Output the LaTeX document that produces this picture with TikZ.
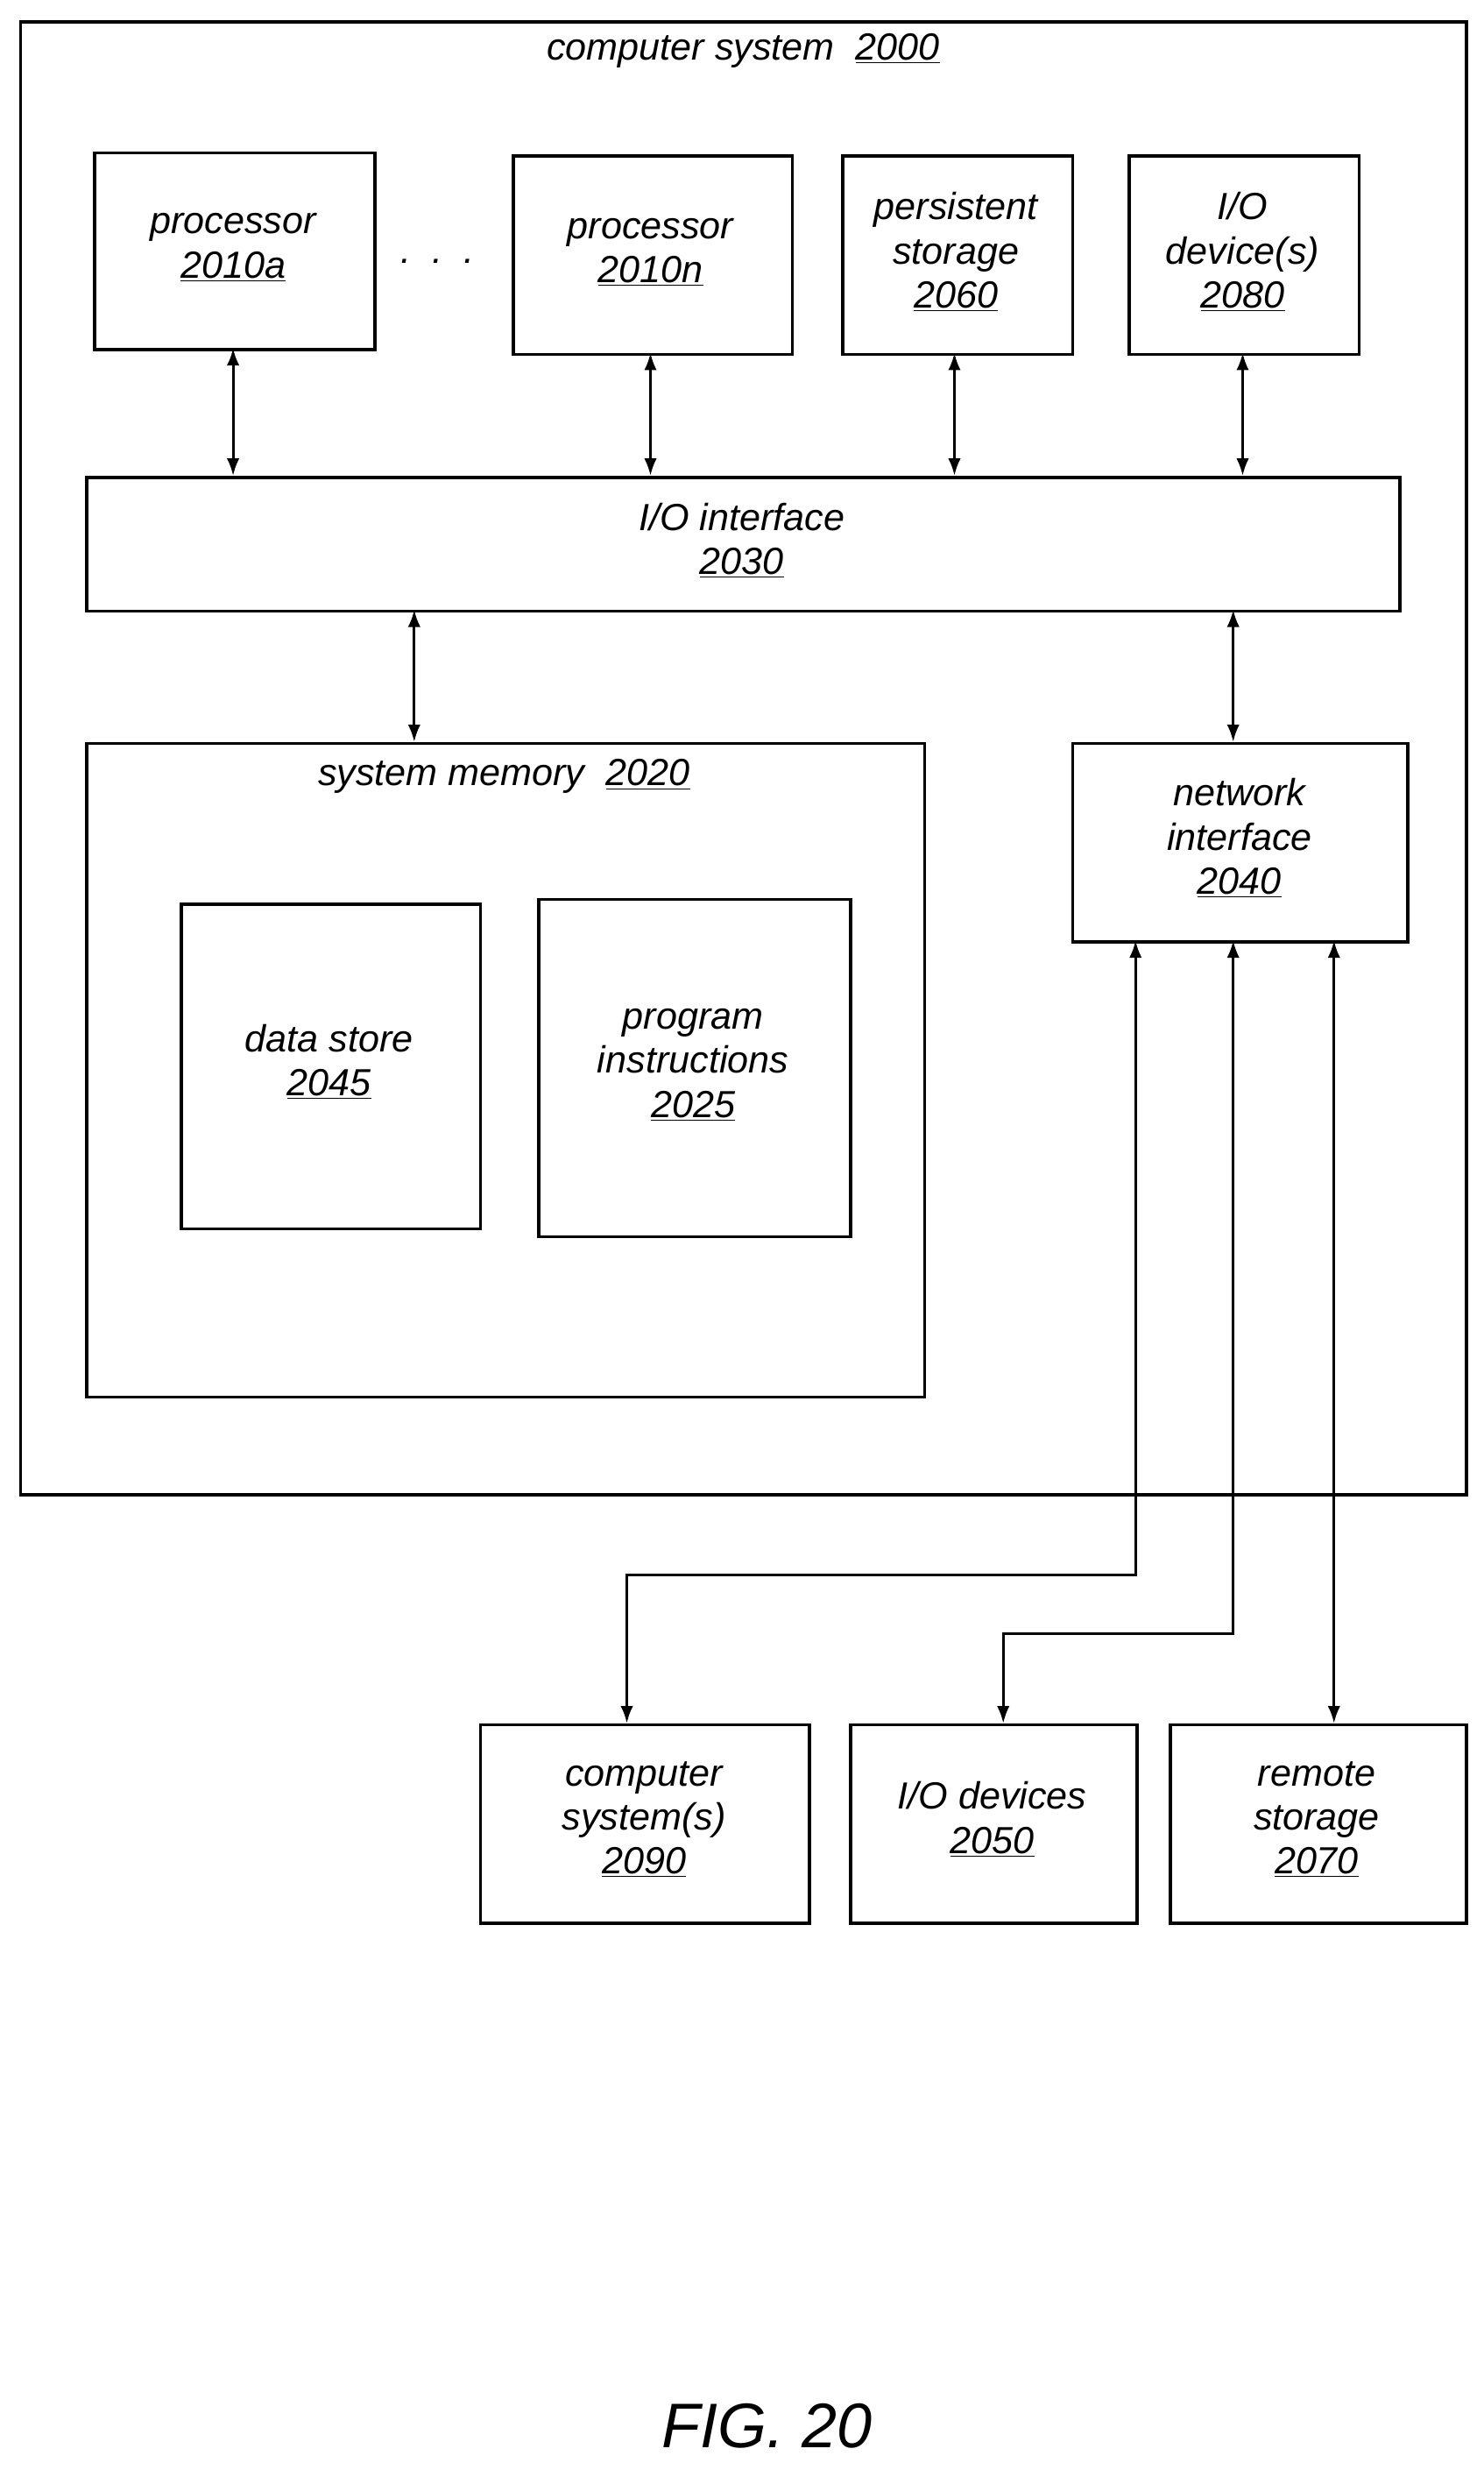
\documentclass[tikz,border=0pt]{standalone}
\usepackage{fontspec}
\setmainfont{Liberation Sans}
\usetikzlibrary{arrows.meta}
\begin{document}
\begin{tikzpicture}[x=1pt,y=-1pt,
  box/.style={draw,line width=2pt},
  lbl/.style={font=\fontsize{24}{28}\selectfont\itshape,align=center},
  arr/.style={line width=1.6pt,{Latex[length=11pt,width=8pt]}-{Latex[length=11pt,width=8pt]}},
  arrs/.style={line width=1.6pt,-{Latex[length=11pt,width=8pt]}}]
\useasboundingbox (0,0) rectangle (942,1568);
\node[box,minimum width=918,minimum height=935,anchor=north west] (cs) at (12,13) {};
\node[lbl] (cst) at (472,32) {computer system \ \underline{2000}};
\node[box,minimum width=178,minimum height=125,anchor=north west] (p1) at (59,96) {};
\node[lbl] at (148,157) {processor\\\underline{2010a}};
\node[lbl] (dots) at (278,166) {.\ \ .\ \ .};
\node[box,minimum width=177,minimum height=126,anchor=north west] (pn) at (325,98) {};
\node[lbl] at (413,160) {processor\\\underline{2010n}};
\node[box,minimum width=146,minimum height=126,anchor=north west] (ps) at (534,98) {};
\node[lbl] at (607,160) {persistent\\storage\\\underline{2060}};
\node[box,minimum width=146,minimum height=126,anchor=north west] (io) at (716,98) {};
\node[lbl] at (789,160) {I/O\\device(s)\\\underline{2080}};
\node[box,minimum width=834,minimum height=85,anchor=north west] (ioi) at (54,302) {};
\node[lbl] at (471,343) {I/O interface\\\underline{2030}};
\node[box,minimum width=532,minimum height=415,anchor=north west] (sm) at (54,471) {};
\node[lbl] at (320,493) {system memory \ \underline{2020}};
\node[box,minimum width=190,minimum height=206,anchor=north west] (ds) at (114,573) {};
\node[lbl] at (209,674) {data store\\\underline{2045}};
\node[box,minimum width=198,minimum height=214,anchor=north west] (pi) at (341,570) {};
\node[lbl] at (440,676) {program\\instructions\\\underline{2025}};
\node[box,minimum width=213,minimum height=126,anchor=north west] (ni) at (680,471) {};
\node[lbl] at (787,532) {network\\interface\\\underline{2040}};
\node[box,minimum width=209,minimum height=126,anchor=north west] (c9) at (304,1094) {};
\node[lbl] at (409,1155) {computer\\system(s)\\\underline{2090}};
\node[box,minimum width=182,minimum height=126,anchor=north west] (c5) at (539,1094) {};
\node[lbl] at (630,1155) {I/O devices\\\underline{2050}};
\node[box,minimum width=188,minimum height=126,anchor=north west] (c7) at (742,1094) {};
\node[lbl] at (836,1155) {remote\\storage\\\underline{2070}};
\node[font=\fontsize{40}{44}\selectfont\itshape] (fig) at (487,1540) {FIG. 20};
\draw[arr] (148,221) -- (148,302);
\draw[arr] (413,224) -- (413,302);
\draw[arr] (606,224) -- (606,302);
\draw[arr] (789,224) -- (789,302);
\draw[arr] (263,387) -- (263,471);
\draw[arr] (783,387) -- (783,471);
\draw[line width=1.6pt,{Latex[length=11pt,width=8pt]}-{Latex[length=11pt,width=8pt]}] (721,597) -- (721,1000) -- (398,1000) -- (398,1094);
\draw[line width=1.6pt,{Latex[length=11pt,width=8pt]}-{Latex[length=11pt,width=8pt]}] (783,597) -- (783,1037) -- (637,1037) -- (637,1094);
\draw[arr] (847,597) -- (847,1094);
\end{tikzpicture}
\end{document}
